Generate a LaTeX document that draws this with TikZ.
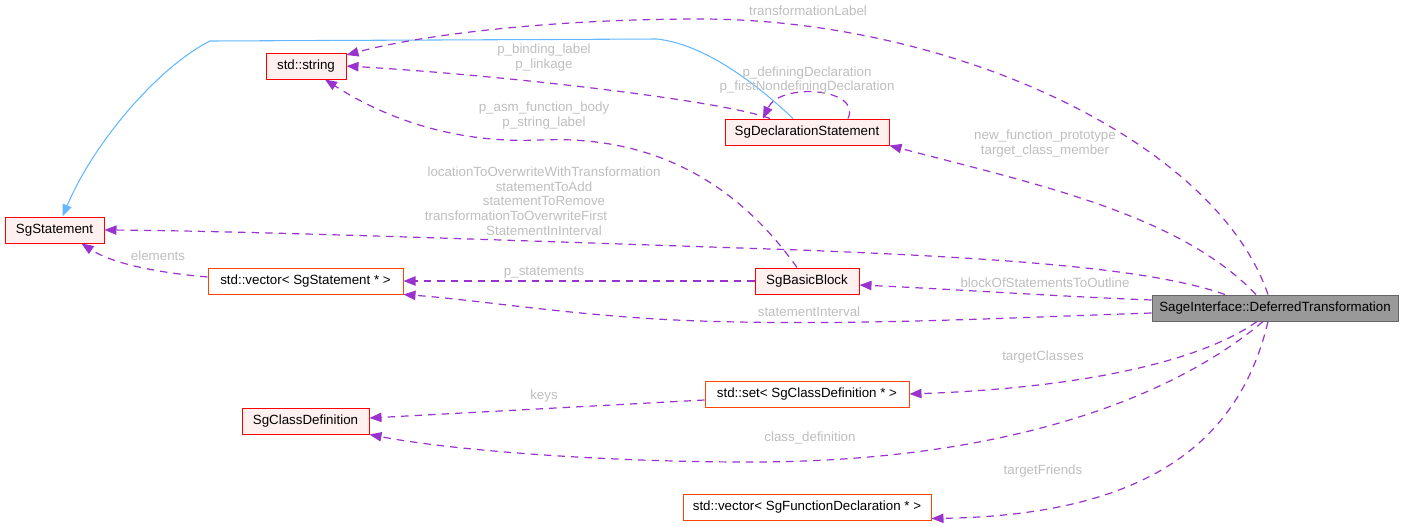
\documentclass[tikz,border=0pt]{standalone}
\usepackage{fontspec}
\setmainfont{Liberation Sans}
\usetikzlibrary{arrows.meta,calc}
\definecolor{edgepurple}{HTML}{9A32CD}
\definecolor{inhblue}{HTML}{63B8FF}
\definecolor{lblgrey}{HTML}{BEBEBE}
\definecolor{undocfill}{HTML}{FFF0F0}
\definecolor{tmplborder}{HTML}{FF4500}
\definecolor{dtfill}{HTML}{999999}
\definecolor{dtborder}{HTML}{666666}
\tikzset{
  cls/.style={draw=red, fill=undocfill, line width=0.75pt, minimum height=19.5pt,
    inner sep=0pt, font=\fontsize{10}{11}\selectfont},
  tmpl/.style={cls, draw=tmplborder, fill=white},
  wd/.style={minimum width=#1*0.75pt},
  usage/.style={edgepurple, line width=0.9pt, dash pattern=on 5.6pt off 4.5pt,
    -{Triangle[length=9pt,width=7pt]}},
  inherit/.style={inhblue, line width=0.8pt, -{Triangle[length=9pt,width=7pt]}},
  lbl/.style={text=lblgrey, font=\fontsize{10}{11}\selectfont, align=center, inner sep=0pt},
}
\begin{document}
\begin{tikzpicture}[x=0.75pt,y=-0.75pt]
\useasboundingbox (0,0) rectangle (1404,526);
%
\node[cls,wd=99] (stmt) at (54.5,230) {SgStatement};
\node[cls,wd=80] (str) at (306,66) {std::string};
\node[cls,wd=164] (decl) at (807,132) {SgDeclarationStatement};
\node[cls,wd=104] (bb) at (807,281) {SgBasicBlock};
\node[tmpl,wd=195] (stmtvec) at (305.5,281) {std::vector< SgStatement * >};
\node[cls,draw=dtborder,fill=dtfill,wd=246] (dt) at (1275,308) {SageInterface::DeferredTransformation};
\node[tmpl,wd=204] (clsset) at (807,394) {std::set< SgClassDefinition * >};
\node[cls,wd=127] (clsdef) at (305.5,421) {SgClassDefinition};
\node[tmpl,wd=248] (fdeclvec) at (807,507) {std::vector< SgFunctionDeclaration * >};
%
\draw[inherit] ($(decl.north)+(-14,0)$) .. controls (765,92) and (710,45) .. (657,39)
  -- (210,41) .. controls (160,66) and (95,140) .. ($(stmt.north)+(8,0)$);
%
\draw[usage] ($(dt.north)+(-7,0)$) .. controls (1215,140) and (950,19) .. (700,19)
  .. controls (550,19) and (420,35) .. ($(str.east)+(0,-11)$);
\node[lbl] (lbltrans) at (808,11) {transformationLabel};
%
\draw[usage] ($(decl.north)+(-37,0)$) .. controls (720,100) and (500,75) .. (str.east);
\node[lbl] (lblbind) at (544,57.5) {p\_binding\_label\\p\_linkage};
%
\draw[usage] ($(decl.north)+(41,0)$) .. controls (862,88) and (780,82) .. ($(decl.north)+(-44,0)$);
\node[lbl] (lbldef) at (807,80) {p\_definingDeclaration\\p\_firstNondefiningDeclaration};
%
\draw[usage] ($(bb.north)+(-10,0)$) .. controls (735,180) and (650,135) .. (540,140)
  .. controls (450,144) and (380,115) .. ($(str.south)+(19,0)$);
\node[lbl] (lblasm) at (544,115.5) {p\_asm\_function\_body\\p\_string\_label};
%
\draw[usage] ($(dt.north)+(-50,0)$) .. controls (1150,268) and (1000,258) .. (800,250)
  .. controls (500,240) and (250,231) .. (stmt.east);
\node[lbl] (lblloc) at (544,201) {locationToOverwriteWithTransformation\\statementToAdd\\statementToRemove\\transformationToOverwriteFirst\rule{42pt}{0pt}\\StatementInInterval};
%
\draw[usage] ($(stmtvec.west)+(0,-4)$) .. controls (150,272) and (110,262) .. ($(stmt.south)+(27,0)$);
\node[lbl] (lblelem) at (158,256) {elements};
%
\draw[usage] (bb.west) -- (stmtvec.east);
\node[lbl] (lblpstmt) at (544,273) {p\_statements};
%
\draw[usage] ($(dt.west)+(0,5)$) .. controls (1000,318) and (850,326) .. (700,321)
  .. controls (580,317) and (480,300) .. (stmtvec.south east);
\node[lbl] (lblintv) at (809,312) {statementInterval};
%
\draw[usage] ($(dt.west)+(0,-8)$) .. controls (1050,296) and (950,289) .. ($(bb.east)+(0,4)$);
\node[lbl] (lblblock) at (1045,283) {blockOfStatementsToOutline};
%
\draw[usage] ($(dt.north)+(-19,0)$) .. controls (1180,215) and (1040,185) .. (decl.south east);
\node[lbl] (lblproto) at (1045,143.5) {new\_function\_prototype\\target\_class\_member};
%
\draw[usage] ($(dt.south)+(-18,0)$) .. controls (1200,362) and (1080,388) .. (clsset.east);
\node[lbl] (lbltcls) at (1043,357) {targetClasses};
%
\draw[usage] ($(dt.south)+(-12,0)$) .. controls (1170,400) and (1000,462) .. (750,462)
  .. controls (600,462) and (450,450) .. (clsdef.south east);
\node[lbl] (lblcdef) at (810,438) {class\_definition};
%
\draw[usage] ($(dt.south)+(-7,0)$) .. controls (1240,440) and (1150,515) .. ($(fdeclvec.south east)+(0,-2)$);
\node[lbl] (lblfriend) at (1043,471) {targetFriends};
%
\draw[usage] ($(clsset.west)+(0,6)$) -- ($(clsdef.east)+(0,-3)$);
\node[lbl] (lblkeys) at (544,396) {keys};
\end{tikzpicture}
\end{document}
